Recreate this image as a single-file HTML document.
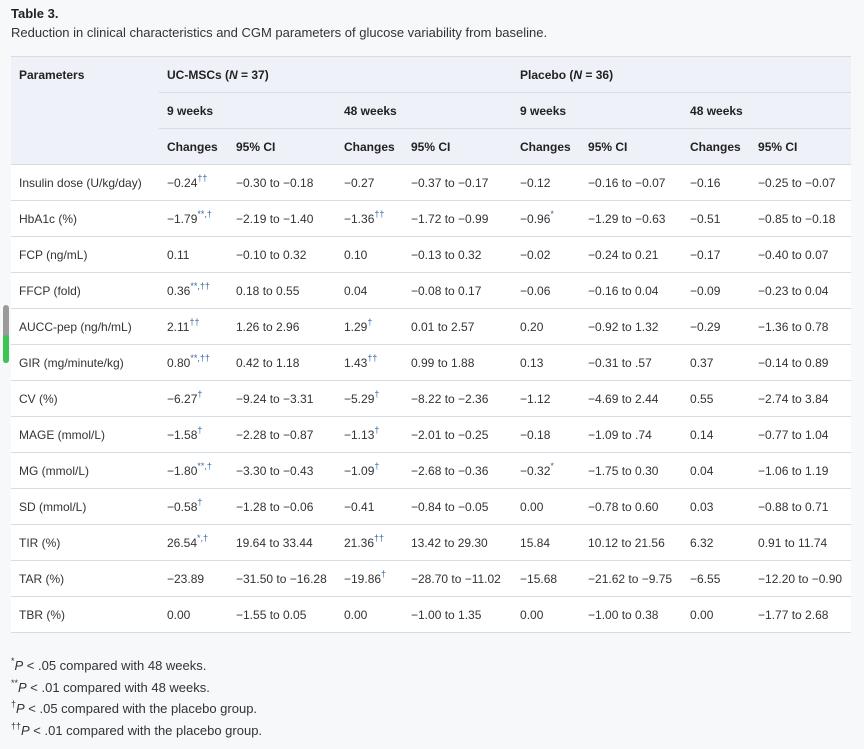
<!DOCTYPE html>
<html><head><meta charset="utf-8"><style>
body{margin:0;width:864px;height:749px;background:#f7f8f9;font-family:"Liberation Sans",sans-serif;color:#333;overflow:hidden;position:relative}
.t{position:absolute;left:11px;top:6px;font-size:13px;font-weight:bold;color:#222}
.s{position:absolute;left:11px;top:25px;font-size:13px;color:#333}
table{position:absolute;left:11px;top:56px;border-collapse:collapse;table-layout:fixed;width:840px;font-size:12px}
td,th{padding:0 0 0 8px;text-align:left;white-space:nowrap;border-top:1px solid #d7dbe3;height:35px}
th{background:#eef1f7;font-weight:bold;color:#222}
tbody td{background:#fff}
tbody tr:last-child td{border-bottom:1px solid #d7dbe3}
sup{color:#3a6aa0;font-size:9px;vertical-align:6px;line-height:0}
.f{position:absolute;left:11px;top:655px;font-size:13px;line-height:21.7px}
.f sup{color:#333}
.bar{position:absolute;left:3px;top:305px;width:6px;height:58px;border-radius:3px;background:#9a9a9a}
.bar2{position:absolute;left:3px;top:335px;width:6px;height:28px;border-radius:3px;background:#3cc552}
</style></head><body>
<div class="t">Table 3.</div>
<div class="s">Reduction in clinical characteristics and CGM parameters of glucose variability from baseline.</div>
<table>
<colgroup><col style="width:148px"><col style="width:69px"><col style="width:108px"><col style="width:67px"><col style="width:109px"><col style="width:68px"><col style="width:102px"><col style="width:68px"><col style="width:101px"></colgroup>
<thead>
<tr><th style="vertical-align:middle">Parameters</th><th colspan="4">UC-MSCs (<i>N</i> = 37)</th><th colspan="4">Placebo (<i>N</i> = 36)</th></tr>
<tr><th style="border-top:none"></th><th colspan="2">9 weeks</th><th colspan="2">48 weeks</th><th colspan="2">9 weeks</th><th colspan="2">48 weeks</th></tr>
<tr><th style="border-top:none"></th><th>Changes</th><th>95% CI</th><th>Changes</th><th>95% CI</th><th>Changes</th><th>95% CI</th><th>Changes</th><th>95% CI</th></tr>
</thead>
<tbody>
<tr><td>Insulin dose (U/kg/day)</td><td>−0.24<sup>††</sup></td><td>−0.30 to −0.18</td><td>−0.27</td><td>−0.37 to −0.17</td><td>−0.12</td><td>−0.16 to −0.07</td><td>−0.16</td><td>−0.25 to −0.07</td></tr>
<tr><td>HbA1c (%)</td><td>−1.79<sup>**,†</sup></td><td>−2.19 to −1.40</td><td>−1.36<sup>††</sup></td><td>−1.72 to −0.99</td><td>−0.96<sup>*</sup></td><td>−1.29 to −0.63</td><td>−0.51</td><td>−0.85 to −0.18</td></tr>
<tr><td>FCP (ng/mL)</td><td>0.11</td><td>−0.10 to 0.32</td><td>0.10</td><td>−0.13 to 0.32</td><td>−0.02</td><td>−0.24 to 0.21</td><td>−0.17</td><td>−0.40 to 0.07</td></tr>
<tr><td>FFCP (fold)</td><td>0.36<sup>**,††</sup></td><td>0.18 to 0.55</td><td>0.04</td><td>−0.08 to 0.17</td><td>−0.06</td><td>−0.16 to 0.04</td><td>−0.09</td><td>−0.23 to 0.04</td></tr>
<tr><td>AUCC-pep (ng/h/mL)</td><td>2.11<sup>††</sup></td><td>1.26 to 2.96</td><td>1.29<sup>†</sup></td><td>0.01 to 2.57</td><td>0.20</td><td>−0.92 to 1.32</td><td>−0.29</td><td>−1.36 to 0.78</td></tr>
<tr><td>GIR (mg/minute/kg)</td><td>0.80<sup>**,††</sup></td><td>0.42 to 1.18</td><td>1.43<sup>††</sup></td><td>0.99 to 1.88</td><td>0.13</td><td>−0.31 to .57</td><td>0.37</td><td>−0.14 to 0.89</td></tr>
<tr><td>CV (%)</td><td>−6.27<sup>†</sup></td><td>−9.24 to −3.31</td><td>−5.29<sup>†</sup></td><td>−8.22 to −2.36</td><td>−1.12</td><td>−4.69 to 2.44</td><td>0.55</td><td>−2.74 to 3.84</td></tr>
<tr><td>MAGE (mmol/L)</td><td>−1.58<sup>†</sup></td><td>−2.28 to −0.87</td><td>−1.13<sup>†</sup></td><td>−2.01 to −0.25</td><td>−0.18</td><td>−1.09 to .74</td><td>0.14</td><td>−0.77 to 1.04</td></tr>
<tr><td>MG (mmol/L)</td><td>−1.80<sup>**,†</sup></td><td>−3.30 to −0.43</td><td>−1.09<sup>†</sup></td><td>−2.68 to −0.36</td><td>−0.32<sup>*</sup></td><td>−1.75 to 0.30</td><td>0.04</td><td>−1.06 to 1.19</td></tr>
<tr><td>SD (mmol/L)</td><td>−0.58<sup>†</sup></td><td>−1.28 to −0.06</td><td>−0.41</td><td>−0.84 to −0.05</td><td>0.00</td><td>−0.78 to 0.60</td><td>0.03</td><td>−0.88 to 0.71</td></tr>
<tr><td>TIR (%)</td><td>26.54<sup>*,†</sup></td><td>19.64 to 33.44</td><td>21.36<sup>††</sup></td><td>13.42 to 29.30</td><td>15.84</td><td>10.12 to 21.56</td><td>6.32</td><td>0.91 to 11.74</td></tr>
<tr><td>TAR (%)</td><td>−23.89</td><td>−31.50 to −16.28</td><td>−19.86<sup>†</sup></td><td>−28.70 to −11.02</td><td>−15.68</td><td>−21.62 to −9.75</td><td>−6.55</td><td>−12.20 to −0.90</td></tr>
<tr><td>TBR (%)</td><td>0.00</td><td>−1.55 to 0.05</td><td>0.00</td><td>−1.00 to 1.35</td><td>0.00</td><td>−1.00 to 0.38</td><td>0.00</td><td>−1.77 to 2.68</td></tr>
</tbody></table>
<div class="bar"></div><div class="bar2"></div>
<div class="f">
<div><sup>*</sup><i>P</i> &lt; .05 compared with 48 weeks.</div>
<div><sup>**</sup><i>P</i> &lt; .01 compared with 48 weeks.</div>
<div><sup>†</sup><i>P</i> &lt; .05 compared with the placebo group.</div>
<div><sup>††</sup><i>P</i> &lt; .01 compared with the placebo group.</div>
</div>
</body></html>
